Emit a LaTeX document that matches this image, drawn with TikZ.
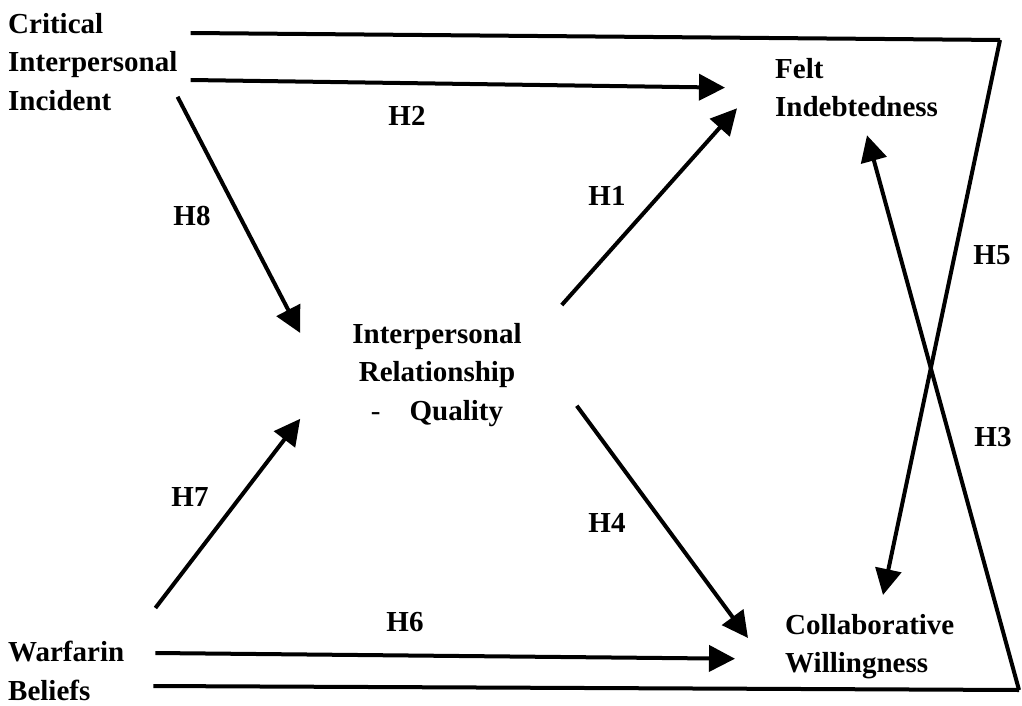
\documentclass[tikz,border=0pt]{standalone}
\usepackage{fontspec}
\setmainfont{Liberation Serif}
\usetikzlibrary{arrows.meta}
\usetikzlibrary{positioning}

\tikzset{
	txt/.style={inner sep=0pt, align=left, font=\fontsize{29}{38.5}\selectfont\bfseries},
	hyp/.style={inner sep=0pt, font=\fontsize{29}{38.5}\selectfont\bfseries},
	arr/.style={line width=4pt, -{Triangle[length=26pt,width=26pt]}},
	ln/.style={line width=4pt, line join=miter}
}

\begin{document}
\begin{tikzpicture}[x=1pt,y=-1pt]
\useasboundingbox[fill=white] (0,0) rectangle (1022,706);

\node[txt, anchor=north west] (cii) at (8,13) {Critical\\Interpersonal\\Incident};
\node[txt, anchor=north west] (fi) at (775,58) {Felt\\Indebtedness};
\node[txt, anchor=north, align=center] (irq) at (437,323) {Interpersonal\\Relationship\\{\normalfont -}\quad Quality};
\node[txt, anchor=north west] (cw) at (785,614) {Collaborative\\Willingness};
\node[txt, anchor=north west] (wb) at (8,641) {Warfarin\\Beliefs};

\coordinate (tr) at (1000,40);
\coordinate (br) at (1019,690);

\draw[arr] ([shift={(13,67)}]cii.north east) -- ([shift={(-50,0)}]fi.west);
\draw[arr] ([shift={(0,-14)}]cii.south east) -- ([shift={(-52,10)}]irq.north west);
\draw[arr] ([shift={(40,-18)}]irq.north east) -- ([shift={(-38,-9)}]fi.south west);
\draw[arr] ([shift={(31,-33)}]wb.north east) -- ([shift={(-52,-8)}]irq.south west);
\draw[arr] ([shift={(55,-21)}]irq.south east) -- ([shift={(-37,24)}]cw.north west);
\draw[arr] ([shift={(31,12)}]wb.north east) -- ([shift={(-50,12)}]cw.west);

\draw[ln] ([shift={(13,20)}]cii.north east) -- (tr);
\draw[arr] (tr) -- ([shift={(98,-19)}]cw.north west);
\draw[ln] ([shift={(29,45)}]wb.north east) -- (br);
\draw[arr] (br) -- ([shift={(92,18)}]fi.south west);

\node[hyp] (h2) at (407,116) {H2};
\node[hyp] (h8) at (192,216) {H8};
\node[hyp] (h1) at (607,196) {H1};
\node[hyp] (h5) at (992,255) {H5};
\node[hyp] (h3) at (993,437) {H3};
\node[hyp] (h7) at (190,497) {H7};
\node[hyp] (h4) at (607,523) {H4};
\node[hyp] (h6) at (405,622) {H6};

\end{tikzpicture}
\end{document}
